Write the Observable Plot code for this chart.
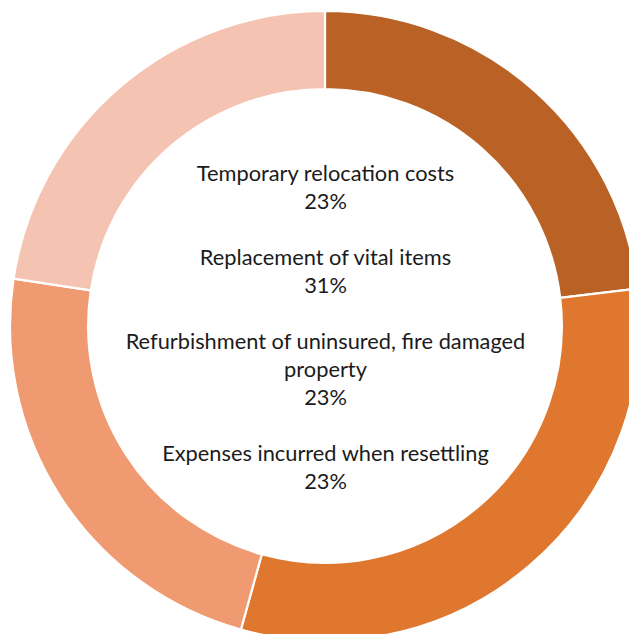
<!DOCTYPE html>
<html>
<head>
<meta charset="utf-8">
<script src="https://cdn.jsdelivr.net/npm/d3@7"></script>
<script src="https://cdn.jsdelivr.net/npm/@observablehq/plot@0.6"></script>
<style>
  html, body { margin: 0; padding: 0; background: white; overflow: hidden; }
</style>
</head>
<body>
<div id="chart"></div>
<script>
// Data
const categories = [
  "Temporary relocation costs",
  "Replacement of vital items",
  "Refurbishment of uninsured, fire damaged property",
  "Expenses incurred when resettling"
];
const labelLines = [
  "Temporary relocation costs",
  "Replacement of vital items",
  "Refurbishment of uninsured, fire damaged\nproperty",
  "Expenses incurred when resettling"
];
const values = [23.1, 31.2, 23.1, 22.6];
const colors = ["#BA6226", "#E0772E", "#F09A72", "#F5C3B1"];

const data = categories.map((c, i) => ({category: c, value: values[i]}));
const total = d3.sum(values);
const fmt = d3.format(".0%");

const centerText = labelLines
  .map((l, i) => l + "\n" + fmt(values[i] / total))
  .join("\n\n");

const color = Plot.scale({color: {type: "ordinal", domain: categories, range: colors}});

const W = 629, H = 634;
const cx = 325, cy = 326, R = 315, innerRatio = 0.752;
const fontSize = 21.8;

function donut(index, scales) {
  const x0 = scales.x(0), y0 = scales.y(0);
  const r = scales.x(1) - scales.x(0);
  const arcs = d3.pie().sort(null).value(d => d.value)(data);
  const arc = d3.arc().innerRadius(r * innerRatio).outerRadius(r);
  const g = d3.create("svg:g").attr("transform", `translate(${x0},${y0})`);
  g.selectAll("path")
    .data(arcs)
    .join("path")
    .attr("d", arc)
    .attr("fill", d => color.apply(d.data.category))
    .attr("stroke", "white")
    .attr("stroke-width", 2.2)
    .attr("stroke-linejoin", "round");
  return g.node();
}

const chart = Plot.plot({
  width: W,
  height: H,
  margin: 0,
  x: {domain: [-1, 1], range: [cx - R, cx + R], axis: null},
  y: {domain: [-1, 1], range: [cy + R, cy - R], axis: null},
  style: {background: "white", overflow: "hidden"},
  marks: [
    donut,
    Plot.text([{x: 0, y: 0, t: centerText}], {
      x: "x", y: "y", text: "t",
      fontSize: fontSize,
      fontFamily: "Lato, 'Liberation Sans', sans-serif",
      fill: "#1b1b1b",
      textAnchor: "middle",
      lineAnchor: "middle",
      lineHeight: 28 / fontSize
    })
  ]
});
document.getElementById("chart").appendChild(chart);
</script>
</body>
</html>
